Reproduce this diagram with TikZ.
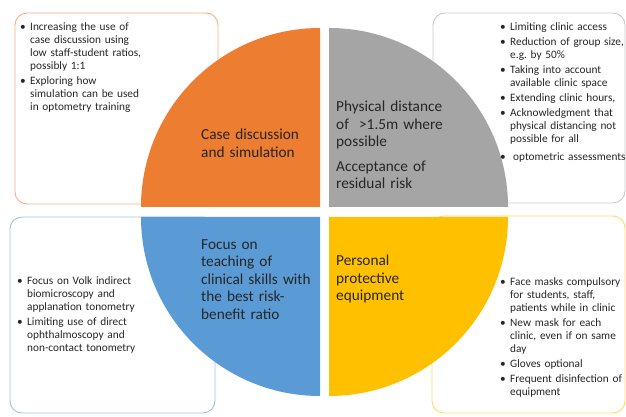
\documentclass[tikz,border=0pt]{standalone}
\usepackage{fontspec}
\setmainfont{Carlito}
\usetikzlibrary{positioning}
\definecolor{caseorange}{HTML}{ED7D31}
\definecolor{distgray}{HTML}{A5A5A5}
\definecolor{skillblue}{HTML}{5B9BD5}
\definecolor{ppeyellow}{HTML}{FFC000}
\definecolor{caseline}{HTML}{F4B183}
\definecolor{distline}{HTML}{C9C9C9}
\definecolor{skillline}{HTML}{9DC3E6}
\definecolor{ppeline}{HTML}{FFD966}
\definecolor{textdark}{HTML}{262626}
% one bullet point, lines broken by hand
\newcommand{\bitem}[1]{{\let\\\newline\par\hangindent=10pt\hangafter=1\noindent\makebox[10pt][l]{\textbullet}#1\par}}

\begin{document}
\begin{tikzpicture}[
    x=1pt, y=1pt,
    outline/.style={draw, rounded corners=12pt, line width=0.9pt, fill=white},
    quadtext/.style={anchor=north west, inner sep=0pt, text width=130pt, align=left, text=textdark, font=\fontsize{15.3}{17.5}\selectfont},
    bullets/.style={anchor=north west, inner sep=0pt, text width=150pt, align=left, text=textdark, font=\fontsize{11.3}{13}\selectfont\setlength{\parskip}{2pt}}
]
  \useasboundingbox (0,0) rectangle (626,417);

  \node[outline, draw=caseline, minimum width=203pt, minimum height=191pt] (casebox) at (116.5,308.5) {};
  \node[outline, draw=distline, minimum width=192pt, minimum height=190pt] (distbox) at (529,309) {};
  \node[outline, draw=skillline, minimum width=205pt, minimum height=196pt] (skillbox) at (112.5,102) {};
  \node[outline, draw=ppeline, minimum width=193pt, minimum height=197pt] (ppebox) at (528.5,102.5) {};

  \fill[caseorange] (320,210) -- (141,210) arc[start angle=180, end angle=90, radius=179] -- cycle;
  \fill[distgray] (329,210) -- (329,389) arc[start angle=90, end angle=0, radius=179] -- cycle;
  \fill[skillblue] (320,200) -- (141,200) arc[start angle=180, end angle=270, radius=179] -- cycle;
  \fill[ppeyellow] (329,200) -- (508,200) arc[start angle=0, end angle=-90, radius=179] -- cycle;

  \node[quadtext] (case) at (201,288) {Case discussion\\and simulation};
  \node[quadtext] (dist) at (336,316) {Physical distance\\of\ \ >1.5m where\\possible\\[7pt]Acceptance of\\residual risk};
  \node[quadtext] (skill) at (201,178) {Focus on\\teaching of\\clinical skills with\\the best risk-\\benefit ratio};
  \node[quadtext] (ppe) at (336,162) {Personal\\protective\\equipment};

  \node[bullets] (casenotes) at (20,402) {\bitem{Increasing the use of\\case discussion using\\low staff-student ratios,\\possibly 1:1}\bitem{Exploring how\\simulation can be used\\in optometry training}};
  \node[bullets] (distnotes) at (500,402) {\bitem{Limiting clinic access}\bitem{Reduction of group size,\\e.g.\ by 50\%}\bitem{Taking into account\\available clinic space}\bitem{Extending clinic hours,}\bitem{Acknowledgment that\\physical distancing not\\possible for all}\vspace{3pt}\bitem{\hspace{3pt}optometric assessments}};
  \node[bullets] (skillnotes) at (17,148) {\bitem{Focus on Volk indirect\\biomicroscopy and\\applanation tonometry}\bitem{Limiting use of direct\\ophthalmoscopy and\\non-contact tonometry}};
  \node[bullets] (ppenotes) at (500,147) {\bitem{Face masks compulsory\\for students, staff,\\patients while in clinic}\bitem{New mask for each\\clinic, even if on same\\day}\bitem{Gloves optional}\bitem{Frequent disinfection of\\equipment}};
\end{tikzpicture}
\end{document}
